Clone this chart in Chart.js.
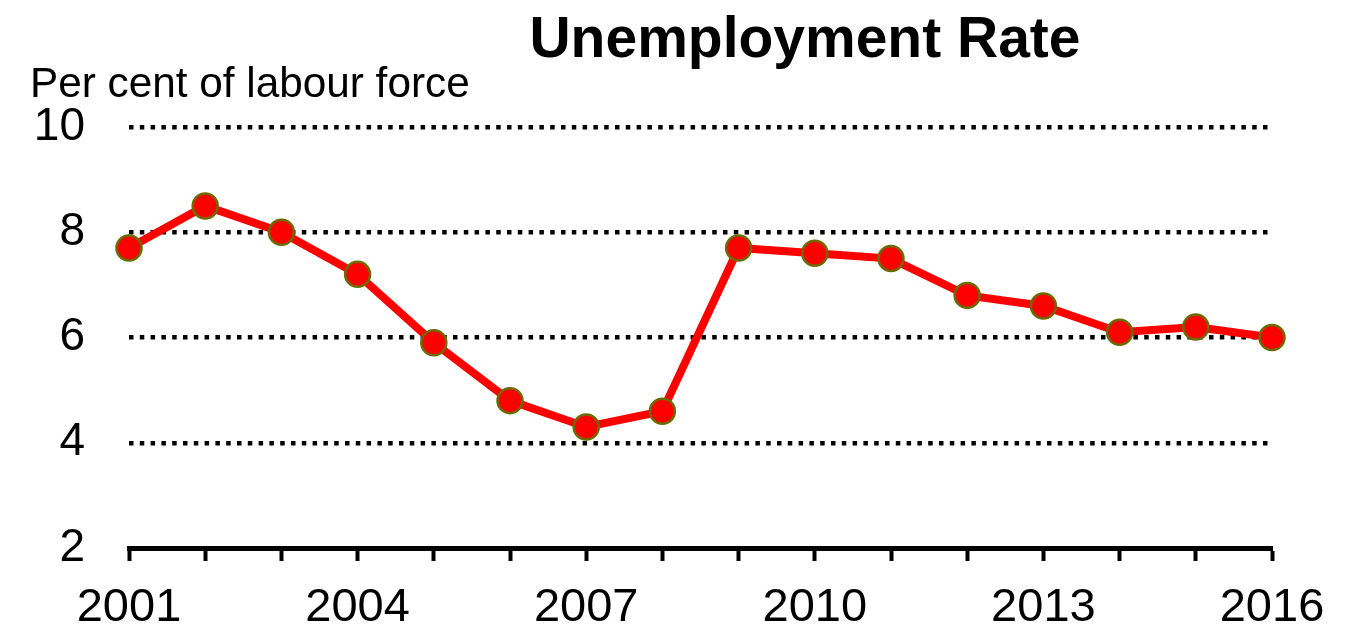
<!DOCTYPE html>
<html>
<head>
<meta charset="utf-8">
<script src="https://cdn.jsdelivr.net/npm/chart.js@4"></script>
<style>
  html, body { margin: 0; padding: 0; background: #fff; }
  #wrap { position: relative; width: 1363px; height: 625px; font-family: "Liberation Sans", Arial, sans-serif; }
  #title { position: absolute; top: 9px; left: 805px; transform: translateX(-50%); white-space: nowrap;
           font-size: 57px; line-height: 57px; font-weight: bold; color: #000; }
  #unit { position: absolute; top: 62px; left: 30px; white-space: nowrap;
          font-size: 42.3px; line-height: 42px; color: #000; }
  canvas { position: absolute; left: 0; top: 0; }
</style>
</head>
<body>
<div id="wrap">
  <canvas id="chart" width="1363" height="625"></canvas>
  <div id="title">Unemployment Rate</div>
  <div id="unit">Per cent of labour force</div>
</div>
<script>
// data
const years = ["2001", "2002", "2003", "2004", "2005", "2006", "2007", "2008",
  "2009", "2010", "2011", "2012", "2013", "2014", "2015", "2016"];
const unemployment = [7.7, 8.5, 8.0, 7.2, 5.9, 4.8, 4.3, 4.6,
  7.7, 7.6, 7.5, 6.8, 6.6, 6.1, 6.2, 6.0];
const yTicks = [2, 4, 6, 8, 10];
const labelEvery = 3;

const font = "'Liberation Sans', Arial, sans-serif";

const ctx = document.getElementById("chart").getContext("2d");
const chart = new Chart(ctx, {
  type: "line",
  data: {
    labels: years,
    datasets: [
      {
        label: "Unemployment rate",
        data: unemployment,
        borderColor: "#ff0000",
        borderWidth: 8,
        backgroundColor: "#ff0000",
        pointBackgroundColor: "#ff0000",
        pointBorderColor: "#6b6b00",
        pointBorderWidth: 2.5,
        pointRadius: 12.5,
        tension: 0,
      },
    ],
  },
  options: {
    responsive: false,
    animation: false,
    layout: { padding: { top: 127, right: 91, left: 0, bottom: 0 } },
    plugins: {
      legend: { display: false },
      title: { display: false },
      tooltip: { enabled: false },
    },
    scales: {
      x: {
        type: "category",
        offset: false,
        grid: {
          drawOnChartArea: false,
          drawTicks: true,
          tickLength: 13,
          tickWidth: 4,
          tickColor: "#000",
        },
        border: { display: true, color: "#000", width: 5 },
        ticks: {
          autoSkip: false,
          maxRotation: 0,
          padding: 19,
          color: "#000",
          font: { family: font, size: 47 },
          callback: function (value, index) {
            return index % labelEvery === 0 ? years[index] : "";
          },
        },
        afterFit: function (scale) {
          scale.height = 77;
        },
      },
      y: {
        min: yTicks[0],
        max: yTicks[yTicks.length - 1],
        afterBuildTicks: function (scale) {
          scale.ticks = yTicks.map((v) => ({ value: v }));
        },
        grid: {
          drawTicks: false,
          lineWidth: 4.5,
          color: (c) => (c.tick && c.tick.value === yTicks[0] ? "rgba(0,0,0,0)" : "#000"),
        },
        border: { display: false, dash: [4.5, 6.3] },
        ticks: {
          padding: 44,
          color: "#000",
          font: { family: font, size: 46 },
        },
        afterFit: function (scale) {
          scale.width = 129;
        },
      },
    },
  },
});
</script>
</body>
</html>
